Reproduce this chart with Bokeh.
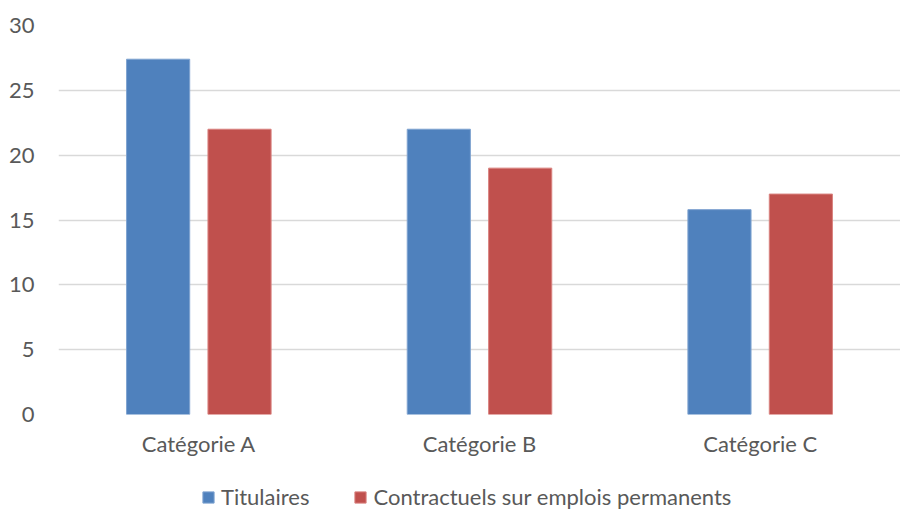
from bokeh.plotting import figure
from bokeh.layouts import column
from bokeh.models import ColumnDataSource, FactorRange, Range1d, Legend, LegendItem, SingleIntervalTicker
from bokeh.transform import dodge
from bokeh.embed import file_html
from bokeh.resources import INLINE

categories = ["Catégorie A", "Catégorie B", "Catégorie C"]
titulaires = [27.4, 22.0, 15.8]
contractuels = [22.0, 19.0, 17.0]
series_names = ["Titulaires", "Contractuels sur emplois permanents"]
y_ticks_interval = 5
y_max = 30

BLUE = "#4F81BD"
RED = "#C0504D"
TXT = "#595959"
FONT = "Lato"

source = ColumnDataSource(data=dict(cat=categories, tit=titulaires, con=contractuels))

p = figure(x_range=FactorRange(*categories, range_padding=0), y_range=Range1d(0, y_max),
           width=900, height=478, frame_width=842, frame_height=389,
           output_backend="svg", toolbar_location=None,
           min_border_left=58, min_border_right=0, min_border_top=25, min_border_bottom=64)

bar_kw = dict(width=0.225, source=source, line_width=1)
p.vbar(x=dodge("cat", -0.145, range=p.x_range), top="tit",
       fill_color=BLUE, line_color="#7FA3D0", **bar_kw)
p.vbar(x=dodge("cat", 0.145, range=p.x_range), top="con",
       fill_color=RED, line_color="#D9827F", **bar_kw)

p.outline_line_color = None
p.xgrid.grid_line_color = None
p.ygrid.grid_line_color = "#D9D9D9"
p.ygrid.grid_line_width = 1.5
p.yaxis.ticker = SingleIntervalTicker(interval=y_ticks_interval)

for ax in (p.xaxis[0], p.yaxis[0]):
    ax.axis_line_color = None
    ax.major_tick_line_color = None
    ax.minor_tick_line_color = None
    ax.major_tick_out = 0
    ax.major_tick_in = 0
    ax.minor_tick_out = 0
    ax.major_label_text_font = FONT
    ax.major_label_text_font_size = "22px"
    ax.major_label_text_color = TXT
p.yaxis.major_label_standoff = 24
p.xaxis.major_label_standoff = 15

# Legend strip below the chart (its bars lie outside its visible range)
leg = figure(x_range=FactorRange(*categories, range_padding=0), y_range=Range1d(100, 101),
             width=900, height=32, output_backend="svg", toolbar_location=None,
             x_axis_type=None, y_axis_type=None,
             min_border_left=0, min_border_right=0, min_border_top=0, min_border_bottom=0)
leg.outline_line_color = None
leg.xgrid.grid_line_color = None
leg.ygrid.grid_line_color = None
l1 = leg.vbar(x=dodge("cat", -0.145, range=leg.x_range), top="tit",
              fill_color=BLUE, line_color="#7FA3D0", **bar_kw)
l2 = leg.vbar(x=dodge("cat", 0.145, range=leg.x_range), top="con",
              fill_color=RED, line_color="#D9827F", **bar_kw)

legend = Legend(items=[LegendItem(label=series_names[0], renderers=[l1]),
                       LegendItem(label=series_names[1], renderers=[l2])],
                orientation="horizontal", location=(143, 0),
                glyph_width=14, glyph_height=14, label_standoff=6, spacing=44,
                padding=0, margin=0, border_line_color=None, background_fill_alpha=0,
                label_text_font=FONT, label_text_font_size="22px", label_text_color=TXT)
leg.add_layout(legend, "center")

layout = column(p, leg, spacing=0)
open("out.html", "w").write(file_html(layout, INLINE))
